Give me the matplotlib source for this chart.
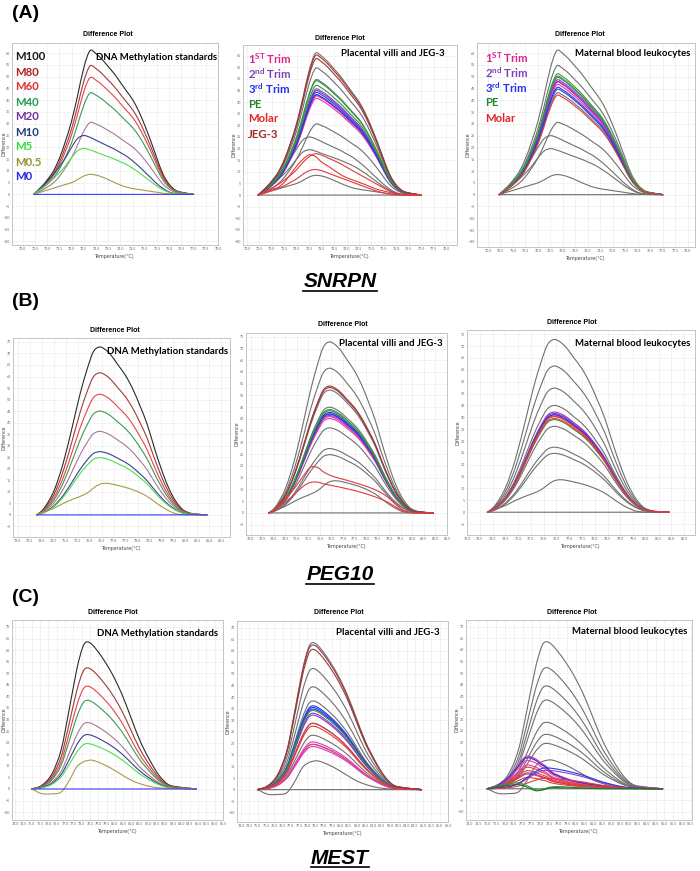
import numpy as np
import matplotlib.pyplot as plt
from matplotlib.path import Path
from matplotlib.patches import PathPatch

plt.rcParams['font.family'] = ['Lato', 'DejaVu Sans']
plt.rcParams['mathtext.fontset'] = 'custom'
plt.rcParams['mathtext.rm'] = 'Lato:bold'
plt.rcParams['mathtext.it'] = 'Lato:bold'
plt.rcParams['mathtext.bf'] = 'Lato:bold'

# ---------------- SNRPN (A) ----------------
snrpn_temp = [70.45, 70.75, 71.0, 71.25, 71.5, 71.75, 72.0, 72.25, 72.5, 72.75, 73.0, 73.25, 73.5,
              73.75, 74.0, 74.25, 74.5, 74.75, 75.0, 75.25, 75.5, 75.75, 76.0, 76.25, 76.5, 77.0]
snrpn_hi = [0, .05, .10, .16, .25, .37, .51, .69, .88, 1.0, .98, .94, .89,
            .84, .78, .72, .66, .58, .48, .37, .25, .14, .07, .03, .015, 0]
snrpn_lo = [0, .12, .22, .34, .47, .62, .80, .95, 1.0, .97, .92, .87, .82,
            .77, .71, .65, .57, .48, .38, .28, .18, .10, .04, .015, .005, 0]
snrpn_m05 = [0, 1.0, 1.8, 2.6, 3.4, 4.2, 5.0, 6.3, 7.8, 8.5, 8.2, 7.4, 6.3,
             5.1, 4.0, 3.1, 2.5, 2.1, 1.7, 1.3, 0.9, 0.5, 0.2, 0.1, 0.05, 0]
snrpn_std_peaks = [61, 54.5, 49.5, 43, 30.5, 25, 19.5]
snrpn_std_kind = ['hi', 'hi', 'hi', 'hi', 'hi', 'lo', 'lo']
snrpn_villi = {'1st': [42.5, 41.5], '2nd': [45.5, 44.8], '3rd': [44.0, 43.0],
               'PE': [49.0, 47.0], 'JEG-3': [60.0, 58.5]}
snrpn_villi_molar = [
    [0, 1.2, 2.5, 3.3, 5.5, 9.0, 12.5, 15.4, 17.3, 16.6, 14.2, 12.5, 10.7,
     8.9, 7.5, 6.5, 5.5, 4.5, 3.4, 2.4, 1.7, 1.1, 0.5, 0.1, 0, 0],
    [0, 1.5, 3.0, 4.5, 6.5, 8.5, 11.0, 14.0, 16.5, 17.8, 17.2, 16.0, 14.8,
     13.5, 12.0, 10.5, 9.0, 7.5, 6.0, 4.5, 3.0, 1.6, 0.6, 0.2, 0, 0],
    [0, 1.0, 2.0, 3.0, 4.0, 5.5, 7.0, 9.0, 10.5, 11.0, 10.5, 9.5, 8.5,
     7.5, 6.5, 5.5, 4.5, 3.5, 2.5, 1.6, 0.9, 0.4, 0.1, 0, 0, 0],
]
snrpn_blood = {'1st': [47.5, 46.5], '2nd': [48.5, 47.8], '3rd': [45.3, 44.5],
               'PE': [51.0, 50.0], 'Molar': [42.0]}
snrpn_xticks = [70.0, 70.5, 71.0, 71.5, 72.0, 72.5, 73.0, 73.5, 74.0, 74.5, 75.0,
                75.5, 76.0, 76.5, 77.0, 77.5, 78.0]
snrpn_yticks = [-20, -15, -10, -5, 0, 5, 10, 15, 20, 25, 30, 35, 40, 45, 50, 55, 60]

# ---------------- PEG10 (B) ----------------
peg10_temp = [73.8, 74.1, 74.5, 74.9, 75.3, 75.6, 75.9, 76.15, 76.4, 76.65, 76.9, 77.2,
              77.5, 77.8, 78.1, 78.4, 78.7, 79.0, 79.3, 79.6, 79.9, 80.2, 80.5, 80.9]
peg10_hi = [0, .04, .14, .31, .54, .72, .87, .97, 1.0, .985, .95, .89,
            .83, .75, .65, .54, .40, .27, .16, .08, .03, .01, .004, 0]
peg10_m05 = [0, 1.2, 2.8, 5.0, 6.8, 8.0, 9.5, 11.5, 13.2, 13.7, 13.4, 12.7,
             11.9, 10.9, 9.6, 8.0, 5.8, 3.6, 1.8, 0.5, 0.1, 0, 0, 0]
peg10_std_peaks = [72.8, 61.6, 52.3, 45.0, 36.2, 27.4, 24.8]
peg10_std_kind = ['hi'] * 7
peg10_villi = {'1st': [41.0, 40.2], '2nd': [42.0, 41.5], '3rd': [42.8, 42.2],
               'PE': [44.0, 43.5], 'JEG-3': [54.0, 53.4]}
peg10_villi_molar = [
    [0, 2.0, 6.0, 10.5, 16.0, 19.5, 19.3, 17.5, 16.2, 15.3, 14.6, 13.8,
     12.9, 12.0, 11.0, 9.8, 8.3, 6.2, 3.4, 1.2, 0.3, 0, 0, 0],
    [0, 1.5, 4.5, 8.0, 11.5, 13.0, 13.1, 12.4, 11.9, 11.4, 10.9, 10.2,
     9.5, 8.7, 7.8, 6.8, 5.6, 4.2, 2.4, 0.9, 0.2, 0, 0, 0],
]
peg10_blood = {'1st': [41.2, 40.5], '2nd': [42.2, 41.6], '3rd': [41.0],
               'PE': [39.0], 'Molar': [40.3, 39.5]}
peg10_xticks = [73.0, 73.5, 74.0, 74.5, 75.0, 75.5, 76.0, 76.5, 77.0, 77.5, 78.0,
                78.5, 79.0, 79.5, 80.0, 80.5, 81.0, 81.5]
peg10_yticks = [-5, 0, 5, 10, 15, 20, 25, 30, 35, 40, 45, 50, 55, 60, 65, 70, 75]

# ---------------- MEST (C) ----------------
mest_temp = [75.0, 75.6, 76.2, 76.75, 77.2, 77.7, 78.05, 78.3, 78.65, 79.2,
             79.8, 80.4, 80.95, 81.5, 82.1, 82.65, 83.2, 83.8, 84.5, 84.9]
mest_hi = [0, .025, .10, .26, .51, .81, .96, 1.0, .98, .90,
           .79, .65, .49, .33, .195, .093, .031, .014, .005, 0]
mest_early = [0, .12, .35, .70, .97, .90, .76, .68, .50, .36,
              .25, .18, .13, .09, .06, .04, .025, .015, .005, 0]
mest_m05 = [0, -2.0, -2.1, -1.4, 3.0, 9.5, 11.5, 12.2, 12.4, 11.0,
            8.8, 6.2, 3.9, 2.3, 1.1, 0.5, 0.2, 0.1, 0, 0]
mest_std_peaks = [63.5, 52.3, 44.4, 38.3, 28.7, 23.5, 19.6]
mest_std_kind = ['hi'] * 7
mest_villi = {'1st': [20.6, 19.5, 18.6], '2nd': [32.2, 33.0], '3rd': [36.2, 35.5, 34.8],
              'PE': [34.2], 'Molar': [28.6, 27.4], 'JEG-3': [62.5, 60.6]}
mest_blood_early = {'1st': [14.5, 13.8, 12.5, 10.5], '3rd': [13.8],
                    'Molar': [9.5, 8.0, 6.5, 5.0], '2nd': [7.0]}
mest_blood_late = {'3rd': [9.0], '2nd': [8.0], 'Molar': [4.5]}
mest_blood_pe = [
    [0, 1.2, 2.2, 2.5, 1.5, -0.3, -0.5, 0.2, 0.8, 0.9, 0.6, 0.4, 0.3, 0.2, 0.1, 0.05, 0, 0, 0, 0],
    [0, 0.8, 1.5, 1.8, 0.8, -0.8, -0.6, -0.2, 0.5, 0.4, 0.3, 0.2, 0.1, 0, 0, 0, 0, 0, 0, 0],
]
mest_xticks = [74.0, 74.5, 75.0, 75.5, 76.0, 76.5, 77.0, 77.5, 78.0, 78.5, 79.0, 79.5, 80.0,
               80.5, 81.0, 81.5, 82.0, 82.5, 83.0, 83.5, 84.0, 84.5, 85.0, 85.5, 86.0, 86.5]
mest_yticks = [-10, -5, 0, 5, 10, 15, 20, 25, 30, 35, 40, 45, 50, 55, 60, 65, 70]

# ---------------- labels / colours ----------------
std_labels = ['M100', 'M80', 'M60', 'M40', 'M20', 'M10', 'M5', 'M0.5', 'M0']
std_text_colors = ['#1a1a1a', '#b22222', '#e03030', '#22a050', '#7030a0',
                   '#1f3d7a', '#33dd33', '#9a9030', '#2222ee']
std_line_colors = ['#2b2b2b', '#a23a3a', '#e04848', '#3c9a55', '#a8789a',
                   '#3a3f8f', '#4ee04e', '#a89a48', '#3b3bff']
group_order = ['1st', '2nd', '3rd', 'PE', 'Molar', 'JEG-3']
group_labels = ['1$^{ST}$ Trim', '2$^{nd}$ Trim', '3$^{rd}$ Trim', 'PE', 'Molar', 'JEG-3']
group_text_colors = ['#e0208c', '#7a44b8', '#2233ee', '#1f8a2a', '#e22424', '#a02a2a']
group_line_colors = {'1st': '#e43aa8', '2nd': '#8a3cc8', '3rd': '#2a3ae0',
                     'PE': '#2e9a3a', 'Molar': '#e23a3a', 'JEG-3': '#9a3a3a'}
grey = '#707070'
LW = 0.8

fig = plt.figure(figsize=(7, 8.71), dpi=100)
W, H = 700.0, 871.0


def add_ax(l, t, r, b):
    ax = fig.add_axes([l / W, 1 - b / H, (r - l) / W, (b - t) / H])
    # y label sits ~9 px left of the frame, but never closer than 4 px to the figure edge
    lx = max(l - 9, 4)
    ax.yaxis.set_label_coords((lx - l) / (r - l), 0.5)
    return ax


def ftext(x, y, s, **kw):
    fig.text(x / W, 1 - y / H, s, **kw)


def curve(ax, xs, ys, color):
    # smooth curve through the read points (Catmull-Rom as cubic Bezier segments)
    p = np.column_stack([xs, ys]).astype(float)
    n = len(p)
    verts = [p[0]]
    codes = [Path.MOVETO]
    for i in range(n - 1):
        p0 = p[i - 1] if i > 0 else p[i]
        p3 = p[i + 2] if i + 2 < n else p[i + 1]
        c1 = p[i] + (p[i + 1] - p0) / 6.0
        c2 = p[i + 1] - (p3 - p[i]) / 6.0
        verts += [c1, c2, p[i + 1]]
        codes += [Path.CURVE4] * 3
    ax.add_patch(PathPatch(Path(verts, codes), fill=False, edgecolor=color, lw=LW,
                           capstyle='round', joinstyle='round'))


def setup(ax, xlim, ylim, xticks, yticks):
    ax.set_xlim(xlim)
    ax.set_ylim(ylim)
    ax.set_xticks(xticks)
    ax.set_xticklabels(['%.1f' % t for t in xticks])
    ax.set_yticks(yticks)
    ax.tick_params(labelsize=2.6, length=0, colors='#666666', pad=1.5)
    ax.grid(True, color='#d6d6d6', lw=0.4, ls=(0, (1.5, 1.5)))
    ax.set_axisbelow(True)
    for s in ax.spines.values():
        s.set_color('#c4c4c4')
        s.set_linewidth(0.7)
    ax.set_xlabel('Temperature(°C)', fontsize=3.4, color='#444444', labelpad=2,
                  family='DejaVu Sans')
    ax.set_ylabel('Difference', fontsize=3.4, color='#444444', family='DejaVu Sans',
                  va='center')


def draw_standards(ax, temp, shapes, peaks, kinds, m05, colors):
    for pk, kind, c in zip(peaks, kinds, colors[:7]):
        curve(ax, temp, pk * np.array(shapes[kind]), c)
    curve(ax, temp, m05, colors[7])
    curve(ax, temp, np.zeros(len(temp)), colors[8])


def draw_groups(ax, temp, shape, groups):
    for g in group_order:
        for pk in groups.get(g, []):
            curve(ax, temp, pk * np.array(shape), group_line_colors[g])


def std_legend(x, y0):
    for i, (lab, c) in enumerate(zip(std_labels, std_text_colors)):
        ftext(x, y0 + 15 * i, lab, color=c, fontsize=8.2, fontweight='bold', va='center')


def group_legend(x, y0, n):
    for i in range(n):
        ftext(x, y0 + 15 * i, group_labels[i], color=group_text_colors[i],
              fontsize=8.2, fontweight='bold', va='center')


def plot_title(x, y):
    ftext(x, y, 'Difference Plot', fontsize=5, fontweight='bold', ha='center', va='center',
          family=['Liberation Sans Narrow', 'Liberation Sans'])


greys = [grey] * 9

# ---- Row A: SNRPN ----
sn_shapes = {'hi': snrpn_hi, 'lo': snrpn_lo}
ax = add_ax(12, 43, 218, 245)
setup(ax, (69.56, 77.91), (-21.5, 64.3), snrpn_xticks, snrpn_yticks)
draw_standards(ax, snrpn_temp, sn_shapes, snrpn_std_peaks, snrpn_std_kind, snrpn_m05, std_line_colors)
plot_title(108, 34)
std_legend(15, 57)
ftext(217, 57, 'DNA Methylation standards', fontsize=6.9, fontweight='bold', ha='right', va='center')

ax = add_ax(243, 45, 457, 245)
setup(ax, (69.84, 78.44), (-21.5, 64.6), snrpn_xticks, snrpn_yticks)
draw_standards(ax, snrpn_temp, sn_shapes, snrpn_std_peaks, snrpn_std_kind, snrpn_m05, greys)
draw_groups(ax, snrpn_temp, snrpn_hi, snrpn_villi)
for ys in snrpn_villi_molar:
    curve(ax, snrpn_temp, ys, group_line_colors['Molar'])
plot_title(340, 38)
group_legend(248, 59, 6)
ftext(445, 53, 'Placental villi and JEG-3', fontsize=6.9, fontweight='bold', ha='right', va='center')

ax = add_ax(477, 43, 695, 247)
setup(ax, (69.56, 78.29), (-22.2, 64.3), snrpn_xticks, snrpn_yticks)
draw_standards(ax, snrpn_temp, sn_shapes, snrpn_std_peaks, snrpn_std_kind, snrpn_m05, greys)
draw_groups(ax, snrpn_temp, snrpn_hi, snrpn_blood)
plot_title(580, 35)
group_legend(485, 58, 5)
ftext(690, 54, 'Maternal blood leukocytes', fontsize=6.9, fontweight='bold', ha='right', va='center')

# ---- Row B: PEG10 ----
pg_shapes = {'hi': peg10_hi}
ax = add_ax(13, 338, 230, 537)
setup(ax, (72.8, 81.86), (-9.6, 76.7), peg10_xticks, peg10_yticks)
draw_standards(ax, peg10_temp, pg_shapes, peg10_std_peaks, peg10_std_kind, peg10_m05, std_line_colors)
plot_title(115, 330)
ftext(228, 352, 'DNA Methylation standards', fontsize=6.9, fontweight='bold', ha='right', va='center')

ax = add_ax(246, 333, 447, 535)
setup(ax, (72.8, 81.4), (-9.4, 76.6), peg10_xticks, peg10_yticks)
draw_standards(ax, peg10_temp, pg_shapes, peg10_std_peaks, peg10_std_kind, peg10_m05, greys)
draw_groups(ax, peg10_temp, peg10_hi, peg10_villi)
for ys in peg10_villi_molar:
    curve(ax, peg10_temp, ys, group_line_colors['Molar'])
plot_title(343, 325)
ftext(443, 343, 'Placental villi and JEG-3', fontsize=6.9, fontweight='bold', ha='right', va='center')

ax = add_ax(467, 330, 695, 535)
setup(ax, (73.03, 81.92), (-9.6, 76.8), peg10_xticks, peg10_yticks)
draw_standards(ax, peg10_temp, pg_shapes, peg10_std_peaks, peg10_std_kind, peg10_m05, greys)
draw_groups(ax, peg10_temp, peg10_hi, peg10_blood)
plot_title(572, 322)
ftext(690, 343, 'Maternal blood leukocytes', fontsize=6.9, fontweight='bold', ha='right', va='center')

# ---- Row C: MEST ----
me_shapes = {'hi': mest_hi}
ax = add_ax(12, 620, 223, 820)
setup(ax, (73.81, 85.88), (-13.4, 73.0), mest_xticks, mest_yticks)
draw_standards(ax, mest_temp, me_shapes, mest_std_peaks, mest_std_kind, mest_m05, std_line_colors)
plot_title(113, 612)
ftext(218, 633, 'DNA Methylation standards', fontsize=6.9, fontweight='bold', ha='right', va='center')

ax = add_ax(237, 621, 448, 822)
setup(ax, (73.75, 85.7), (-14.0, 72.9), mest_xticks, mest_yticks)
draw_standards(ax, mest_temp, me_shapes, mest_std_peaks, mest_std_kind, mest_m05, greys)
draw_groups(ax, mest_temp, mest_hi, mest_villi)
plot_title(339, 612)
ftext(440, 632, 'Placental villi and JEG-3', fontsize=6.9, fontweight='bold', ha='right', va='center')

ax = add_ax(466, 620, 692, 820)
setup(ax, (73.8, 86.56), (-13.5, 72.9), mest_xticks, mest_yticks)
draw_standards(ax, mest_temp, me_shapes, mest_std_peaks, mest_std_kind, mest_m05, greys)
draw_groups(ax, mest_temp, mest_early, mest_blood_early)
draw_groups(ax, mest_temp, mest_hi, mest_blood_late)
for ys, c in zip(mest_blood_pe, ['#2e9a3a', '#1d6e28']):
    curve(ax, mest_temp, ys, c)
plot_title(572, 612)
ftext(687, 631, 'Maternal blood leukocytes', fontsize=6.9, fontweight='bold', ha='right', va='center')

# ---- panel letters and gene names ----
for lab, y in [('(A)', 14), ('(B)', 302), ('(C)', 597)]:
    ftext(12, y, lab, fontsize=14, fontweight='bold', va='center', family='Liberation Sans')

for gene, y, x0, x1, uy in [('SNRPN', 281, 303, 377, 291),
                            ('PEG10', 574, 306, 374, 584),
                            ('MEST', 858, 311, 369, 867)]:
    ftext(340, y, gene, fontsize=15, fontweight='bold', style='italic', ha='center',
          va='center', family='Liberation Sans')
    fig.add_artist(plt.Line2D([x0 / W, x1 / W], [1 - uy / H, 1 - uy / H],
                              color='black', lw=1.2))

fig.savefig('out.png', dpi=100)
